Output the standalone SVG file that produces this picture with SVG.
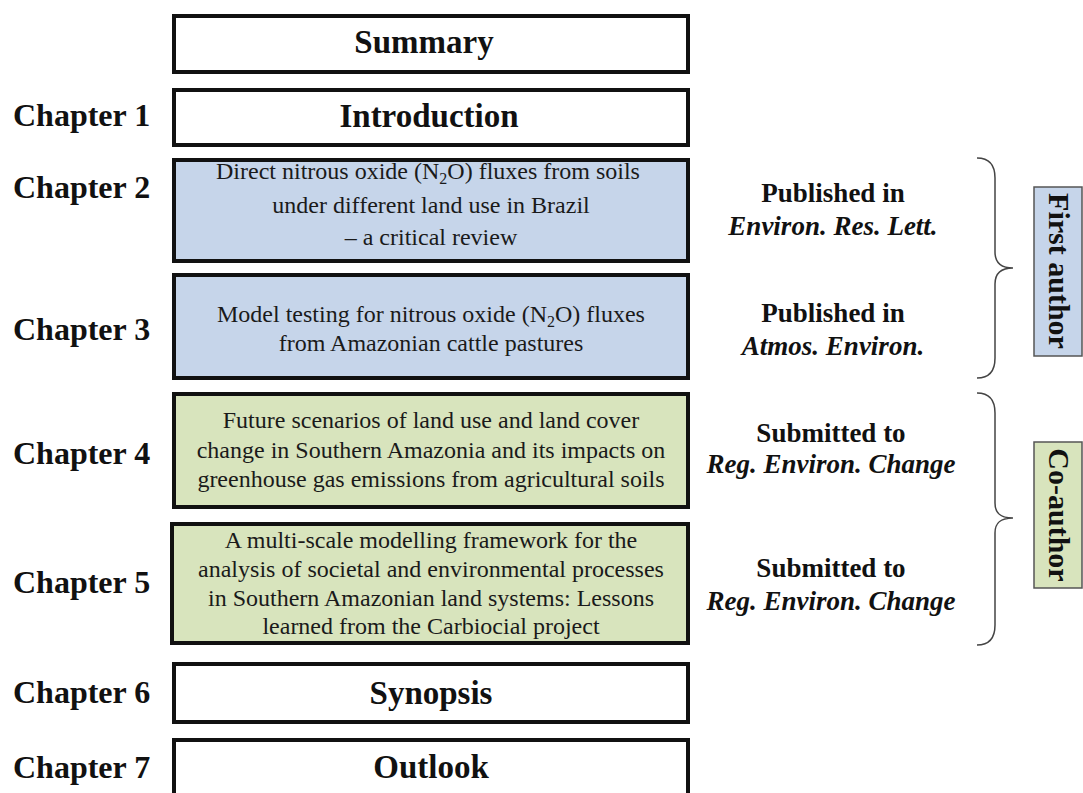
<svg xmlns="http://www.w3.org/2000/svg" width="1083" height="793" viewBox="0 0 1083 793">
<style>
.box{stroke:#111;stroke-width:4;fill:#fff}
.blue{fill:#c6d5ea}
.green{fill:#d8e4bd}
.chap{font-family:"Liberation Serif","Times New Roman",serif;font-weight:bold;font-size:32px;fill:#111}
.title{font-family:"Liberation Serif","Times New Roman",serif;font-weight:bold;font-size:33px;fill:#111;text-anchor:middle}
.body{font-family:"Liberation Serif","Times New Roman",serif;font-size:24px;fill:#1a1a1a;text-anchor:middle}
.pub{font-family:"Liberation Serif","Times New Roman",serif;font-weight:bold;font-size:27px;fill:#111;text-anchor:middle}
.jr{font-style:italic}
.side{stroke:#555;stroke-width:1.5}
.brace{fill:none;stroke:#444;stroke-width:1.5}
.rot{font-family:"Liberation Serif","Times New Roman",serif;font-weight:bold;font-size:30px;fill:#111;text-anchor:middle;dominant-baseline:central}
</style>
<rect width="1083" height="793" fill="#fff"/>
<g id="summary"><rect class="box" x="174" y="16" width="514" height="56"/><text class="title" x="424" y="53">Summary</text></g>
<g id="ch1"><text class="chap" x="13" y="126">Chapter 1</text><rect class="box" x="174" y="90" width="514" height="55"/><text class="title" x="429" y="127">Introduction</text></g>
<g id="ch2"><text class="chap" x="13" y="198">Chapter 2</text><rect class="box blue" x="174" y="160" width="514" height="101"/>
<text class="body" x="428" y="179">Direct nitrous oxide (N<tspan font-size="16" dy="5">2</tspan><tspan dy="-5">O) fluxes from soils</tspan></text>
<text class="body" x="431" y="213">under different land use in Brazil</text>
<text class="body" x="431" y="245">– a critical review</text></g>
<g id="ch3"><text class="chap" x="13" y="340">Chapter 3</text><rect class="box blue" x="174" y="275" width="514" height="103"/>
<text class="body" x="431" y="322">Model testing for nitrous oxide (N<tspan font-size="16" dy="5">2</tspan><tspan dy="-5">O) fluxes</tspan></text>
<text class="body" x="431" y="351">from Amazonian cattle pastures</text></g>
<g id="ch4"><text class="chap" x="13" y="464">Chapter 4</text><rect class="box green" x="174" y="394" width="514" height="113"/>
<text class="body" x="431" y="428">Future scenarios of land use and land cover</text>
<text class="body" x="431" y="458">change in Southern Amazonia and its impacts on</text>
<text class="body" x="431" y="487">greenhouse gas emissions from agricultural soils</text></g>
<g id="ch5"><text class="chap" x="13" y="593">Chapter 5</text><rect class="box green" x="172" y="524" width="516" height="119"/>
<text class="body" x="431" y="548">A multi-scale modelling framework for the</text>
<text class="body" x="431" y="577">analysis of societal and environmental processes</text>
<text class="body" x="431" y="606">in Southern Amazonian land systems: Lessons</text>
<text class="body" x="431" y="634">learned from the Carbiocial project</text></g>
<g id="ch6"><text class="chap" x="13" y="703">Chapter 6</text><rect class="box" x="174" y="664" width="514" height="58"/><text class="title" x="431" y="704">Synopsis</text></g>
<g id="ch7"><text class="chap" x="13" y="778">Chapter 7</text><rect class="box" x="174" y="740" width="514" height="70"/><text class="title" x="431" y="778">Outlook</text></g>
<g id="pub2"><text class="pub" x="833" y="202">Published in</text><text class="pub jr" x="833" y="235">Environ. Res. Lett.</text></g>
<g id="pub3"><text class="pub" x="833" y="322">Published in</text><text class="pub jr" x="833" y="355">Atmos. Environ.</text></g>
<g id="pub4"><text class="pub" x="831" y="442">Submitted to</text><text class="pub jr" x="831" y="473">Reg. Environ. Change</text></g>
<g id="pub5"><text class="pub" x="831" y="577">Submitted to</text><text class="pub jr" x="831" y="610">Reg. Environ. Change</text></g>
<g id="connectors">
<path class="brace" d="M977,158 C990,158 995,165 995,178 L995,252 C995,262 1000,268 1013,268 C1000,268 995,274 995,284 L995,358 C995,371 990,378 977,378"/>
<path class="brace" d="M977,393 C990,393 995,400 995,413 L995,503 C995,513 1000,518 1013,518 C1000,518 995,523 995,533 L995,625 C995,638 990,645 977,645"/>
</g>
<g id="first-author"><rect class="side blue" x="1034" y="187" width="48" height="169"/><text class="rot" transform="translate(1059,271) rotate(90)">First author</text></g>
<g id="co-author"><rect class="side green" x="1034" y="442" width="48" height="146"/><text class="rot" transform="translate(1059,515) rotate(90)">Co-author</text></g>
</svg>
